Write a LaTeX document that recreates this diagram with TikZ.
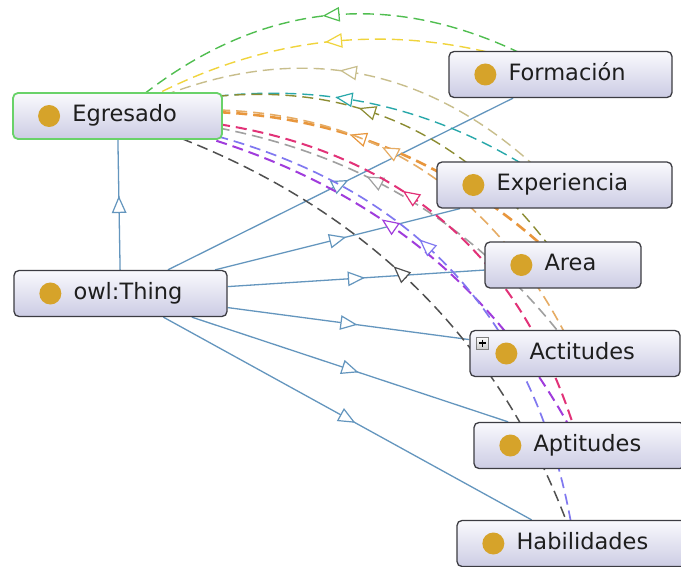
\documentclass[tikz,border=0pt]{standalone}
\usepackage{fontspec}
\setmainfont{DejaVu Sans}
\usetikzlibrary{calc,decorations.markings}
\pgfdeclarelayer{background}
\pgfsetlayers{background,main}

\definecolor{edgeblue}{RGB}{100,150,190}
\definecolor{boxline}{RGB}{60,60,66}
\definecolor{boxtop}{RGB}{250,250,253}
\definecolor{boxbot}{RGB}{204,204,228}
\definecolor{selgreen}{RGB}{105,210,105}
\definecolor{dotgold}{RGB}{214,163,42}
\definecolor{txt}{RGB}{30,30,30}
\definecolor{cGreen}{RGB}{80,190,80}
\definecolor{cYellow}{RGB}{240,212,60}
\definecolor{cTan}{RGB}{200,190,140}
\definecolor{cCyan}{RGB}{40,168,170}
\definecolor{cOlive}{RGB}{140,140,50}
\definecolor{cOrange}{RGB}{232,150,60}
\definecolor{cLOrange}{RGB}{230,172,100}
\definecolor{cGray}{RGB}{160,160,160}
\definecolor{cPink}{RGB}{226,50,120}
\definecolor{cPurple}{RGB}{160,60,220}
\definecolor{cViolet}{RGB}{128,120,240}
\definecolor{cDark}{RGB}{80,80,80}

\tikzset{
  cls/.style={rectangle, rounded corners=5pt, draw=boxline, line width=1.3pt,
    top color=boxtop, bottom color=boxbot, minimum height=46pt, inner sep=0pt},
  dot/.style={circle, fill=dotgold, minimum size=22pt, inner sep=0pt},
  lbl/.style={anchor=base west, inner sep=0pt, text=txt,
    font=\fontsize{22.5}{27}\selectfont},
  isa/.style={draw=edgeblue, line width=1.3pt, postaction={decorate},
    decoration={markings, mark=at position 0.5 with
      {\draw[edgeblue, fill=white, line width=1.2pt, line join=miter]
        (7.5,0) -- (-7.5,6.5) -- (-7.5,-6.5) -- cycle;}}},
  rel/.style={draw=#1, dash pattern=on 11pt off 6pt, line width=1.4pt,
    postaction={decorate},
    decoration={markings, mark=at position 0.5 with
      {\draw[#1, solid, fill=white, line width=1.2pt, line join=miter]
        (-7.5,0) -- (7.5,6.5) -- (7.5,-6.5) -- cycle;}}},
  expander/.style={rectangle, draw=gray, line width=0.6pt, top color=white,
    bottom color=black!20, minimum size=12pt, inner sep=0pt,
    path picture={\draw[black, line width=1.2pt]
      ($(path picture bounding box.center)+(-3.5,0)$) -- ($(path picture bounding box.center)+(3.5,0)$)
      ($(path picture bounding box.center)+(0,-3.5)$) -- ($(path picture bounding box.center)+(0,3.5)$);}}
}

% object-property arc from Egresado: #1 style, #2 quadratic control point, #3 target
\newcommand{\relarc}[3]{%
  \draw[#1] (eg.center) .. controls ($(eg.center)!0.6667!#2$) and ($(#3.center)!0.6667!#2$) .. (#3.center);}

\begin{document}
\begin{tikzpicture}[x=1pt, y=-1pt]
\useasboundingbox (0,0) rectangle (681,567);
\clip (0,0) rectangle (681,567);

% classes
\node[cls, draw=selgreen, line width=1.8pt, minimum width=209pt] (eg) at (117.5,116) {};
\node[cls, minimum width=213pt] (thing) at (120.5,293.5) {};
\node[cls, minimum width=223pt] (form) at (560.5,74.5) {};
\node[cls, minimum width=235pt] (exp) at (554.5,185) {};
\node[cls, minimum width=156pt] (area) at (563,265) {};
\node[cls, minimum width=210pt] (act) at (575,353.5) {};
\node[cls, minimum width=211pt] (apt) at (579.5,445.5) {};
\node[cls, minimum width=235pt] (hab) at (574.5,543.5) {};

\foreach \n/\t in {eg/Egresado, thing/owl:Thing, form/Formación, exp/Experiencia,
                   area/Area, act/Actitudes, apt/Aptitudes, hab/Habilidades}{
  \node[dot] (\n dot) at ($(\n.west)+(37,0)$) {};
  \node[lbl] (\n lbl) at ($(\n.west)+(60,6)$) {\t};
}

\node[expander] (actplus) at (482.5,343) {};

\begin{pgfonlayer}{background}
  \fill[white] (0,0) rectangle (681,567);

  % subclass edges
  \foreach \t in {eg, form, exp, area, act, apt, hab}
    \draw[isa] (thing) -- (\t);

  % object-property arcs
  \relarc{rel=cGreen}{(323,-65)}{form}
  \relarc{rel=cYellow}{(331,-13)}{form}
  \relarc{rel=cTan}{(364,-6.5)}{exp}
  \relarc{rel=cCyan}{(358,47.5)}{exp}
  \relarc{rel=cOlive}{(402,33.5)}{area}
  \relarc{rel=cOrange, line width=2.6pt}{(380,85.5)}{area}
  \relarc{rel=cLOrange, line width=1.6pt}{(440,71)}{act}
  \relarc{rel=cGray, line width=1.6pt}{(412,131)}{act}
  \relarc{rel=cPink, line width=2pt}{(486,121)}{apt}
  \relarc{rel=cPurple, line width=2pt}{(442,177)}{apt}
  \relarc{rel=cViolet, line width=1.7pt}{(518,172)}{hab}
  \relarc{rel=cDark, line width=1.5pt}{(464,224)}{hab}
\end{pgfonlayer}
\end{tikzpicture}
\end{document}
